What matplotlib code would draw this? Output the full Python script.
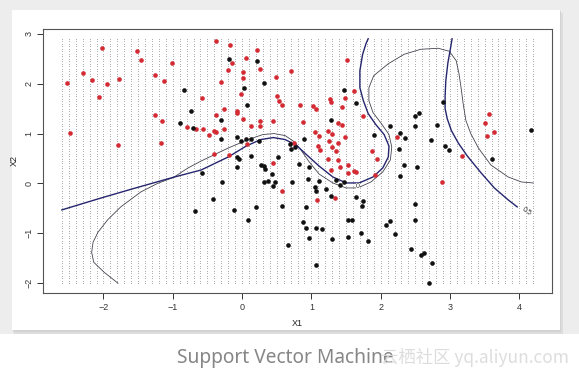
import numpy as np
import matplotlib
matplotlib.use("Agg")
import matplotlib.pyplot as plt
from matplotlib.patches import Rectangle

W, H = 579, 376

# prediction grid (drawn as tiny dots)
GRID_X_MIN, GRID_X_MAX, GRID_X_STEP = -2.6, 4.2, 0.1
GRID_Y_MIN, GRID_Y_MAX, GRID_Y_STEP = -2.0, 2.9, 0.05

# class 1 (red) training points
red_x = [-2.52, -2.48, -2.30, -2.16, -2.02, -1.95, -2.07, -1.79, -1.77, -1.52,
         -1.46, -1.26, -1.13, -1.01, -1.26, -1.16, -1.17, -0.80, -0.66, -0.58,
         -0.37, -0.17, 0.21, -0.15, 0.06, -0.20, 0.01, 0.26, 0.01, 0.70,
         0.49, -0.31, -0.01, 0.51, 0.53, 0.57, -0.26, -0.08, -0.07, -0.37,
         0.01, 0.26, 0.26, 0.44, 0.13, 0.84, 0.88, 1.03, 1.07, 1.27,
         1.28, 1.49, 1.51, 1.61, 1.44, 1.75, 1.39, 1.44, -0.57, -0.48,
         -0.41, -0.37, -0.26, 0.07, -0.40, -0.19, 0.75, 1.05, 1.11, 1.24,
         1.25, 1.30, 1.39, 1.30, 1.36, 1.09, 1.13, 1.49, 1.24, 1.88,
         1.95, 2.23, 3.17, 3.56, 3.50, 3.64, 3.53, 0.45, 0.58, 1.34,
         1.08, 1.38, 1.42, 1.53, 1.53, 1.28, 1.61, 1.92, 2.89, 1.64]
red_y = [2.01, 1.02, 2.21, 2.07, 2.71, 2.00, 1.73, 0.77, 2.10, 2.66,
         2.47, 2.18, 2.05, 2.42, 1.38, 1.26, 0.82, 1.14, 1.10, 1.71,
         2.85, 2.77, 2.68, 2.42, 2.51, 2.28, 2.24, 2.29, 2.12, 2.26,
         2.14, 2.04, 1.80, 1.76, 1.65, 1.58, 1.50, 1.46, 1.42, 1.38,
         1.29, 1.25, 1.16, 1.26, 1.16, 1.57, 1.24, 1.55, 1.50, 1.70,
         1.63, 1.71, 2.48, 1.86, 1.54, 1.36, 1.21, 1.18, 1.10, 0.98,
         1.06, 1.04, 1.09, 0.80, 0.59, 0.57, 0.81, 1.04, 0.96, 1.06,
         0.86, 1.00, 0.82, 0.73, 0.65, 0.75, 0.67, 0.93, 0.50, 0.66,
         0.50, 0.93, 0.56, 1.40, 1.22, 1.04, 0.96, 0.41, -0.16, -0.29,
         -0.33, 0.48, 0.32, 0.37, 0.20, 0.27, 0.24, 0.17, 0.02, 0.23]

# class 0 (black) training points
black_x = [-0.84, -0.73, -0.90, -0.71, -0.19, 0.21, 0.32, 0.03, 0.07, -0.31,
           1.47, 1.64, 1.29, -0.30, -0.07, -0.01, 0.06, 0.13, 0.25, 0.52,
           0.13, -0.08, -0.05, 0.69, 0.70, 0.76, 0.89, 2.13, 1.90, 2.28,
           2.27, -0.58, -0.08, -0.29, -0.42, -0.11, 0.09, 0.20, 0.27, 0.32,
           0.33, 0.43, 0.32, 0.37, 0.48, 0.44, 0.58, 0.72, 0.82, 0.95,
           1.05, 1.07, 1.11, 1.21, 1.28, 0.92, 1.35, 1.42, 1.64, 1.75,
           1.73, 1.53, 1.59, 0.88, 0.92, 1.06, 1.15, 0.96, 1.30, 1.53,
           1.72, 1.82, 0.66, 1.07, 2.08, 2.13, 2.20, 2.28, 2.90, 2.49,
           2.55, 2.49, 2.81, 2.35, 2.72, 2.93, 2.99, 3.61, 4.17, 2.34,
           2.53, 2.50, 2.49, 2.44, 2.58, 2.63, 2.74, 2.70, -0.68, 0.96, 1.47]
black_y = [1.88, 1.46, 1.22, 1.12, 2.49, 2.45, 2.01, 1.92, 1.58, 1.28,
           1.87, 1.61, 1.28, 0.89, 0.93, 0.86, 0.89, 0.90, 0.86, 0.53,
           0.56, 0.53, 0.49, 0.79, 0.70, 0.73, 0.89, 1.15, 0.97, 1.01,
           0.69, 0.20, 0.33, 0.02, -0.31, -0.53, -0.73, -0.47, 0.37, 0.35,
           0.29, 0.19, 0.02, 0.04, 0.02, -0.05, -0.45, 0.02, 0.38, 0.08,
           -0.08, -0.16, 0.04, -0.11, -0.26, -0.47, 0.07, -0.03, -0.28, -0.36,
           -0.45, -0.74, -0.74, -0.78, -0.90, -0.90, -0.91, -1.09, -1.11, -1.07,
           -1.00, -1.15, -1.24, -1.63, -0.83, -0.76, -1.01, 0.15, 1.63, 1.36,
           1.42, 1.16, 1.17, 0.91, 0.88, 0.75, 0.68, 0.49, 1.08, 0.36,
           0.33, -0.41, -0.73, -1.31, -1.43, -1.40, -1.59, -1.99, -0.55, 0.33, 0.02]

# SVM decision boundary (level 0)
svm_x = [-1.79, -1.99, -2.14, -2.17, -2.15, -2.08, -1.94, -1.75, -1.46, -1.22,
         -0.99, -0.78, -0.59, -0.20, 0.09, 0.30, 0.46, 0.62, 0.75, 0.85,
         0.97, 1.11, 1.31, 1.50, 1.67, 1.86, 2.03, 2.14, 2.16, 2.12,
         2.01, 1.89, 1.83, 1.83, 1.90, 2.11, 2.34, 2.58, 2.83, 2.99,
         3.09, 3.13, 3.16, 3.19, 3.23, 3.30, 3.41, 3.59, 3.84, 4.03, 4.20]
svm_y = [-2.00, -1.78, -1.58, -1.38, -1.18, -0.98, -0.73, -0.47, -0.17, 0.00,
         0.12, 0.31, 0.45, 0.71, 0.88, 0.98, 1.00, 0.96, 0.84, 0.67,
         0.43, 0.19, 0.01, -0.09, -0.09, 0.03, 0.23, 0.47, 0.73, 0.98,
         1.20, 1.42, 1.66, 1.92, 2.16, 2.40, 2.59, 2.69, 2.71, 2.65,
         2.46, 2.20, 1.92, 1.60, 1.26, 1.00, 0.71, 0.37, 0.13, 0.03, 0.01]
SVM_LABEL_IDX = 24

# Bayes boundary (probability 0.5), two pieces
bayes1_x = [-2.60, -2.03, -1.56, -1.00, -0.59, -0.20, 0.06, 0.27, 0.45, 0.62,
            0.78, 0.92, 1.11, 1.31, 1.50, 1.69, 1.89, 2.03, 2.11, 2.12,
            2.05, 1.93, 1.82, 1.75, 1.70, 1.70, 1.74, 1.79, 1.82]
bayes1_y = [-0.53, -0.29, -0.10, 0.12, 0.27, 0.53, 0.75, 0.88, 0.92, 0.88,
            0.77, 0.59, 0.35, 0.13, 0.01, 0.01, 0.13, 0.31, 0.53, 0.75,
            0.98, 1.18, 1.40, 1.66, 1.92, 2.26, 2.59, 2.81, 2.90]
bayes2_x = [3.03, 3.00, 2.97, 2.94, 2.93, 2.93, 2.96, 3.02, 3.12, 3.25,
            3.45, 3.64, 3.84, 3.97]
bayes2_y = [2.90, 2.65, 2.42, 2.06, 1.76, 1.50, 1.30, 1.06, 0.81, 0.55,
            0.21, -0.09, -0.33, -0.47]

x_ticks = [-2, -1, 0, 1, 2, 3, 4]
y_ticks = [-2, -1, 0, 1, 2, 3]


def fig_rect(fig, x0, y0, x1, y1, color, z):
    # pixel box (top-left origin) -> figure fraction
    r = Rectangle((x0 / W, 1 - y1 / H), (x1 - x0) / W, (y1 - y0) / H,
                  transform=fig.transFigure, facecolor=color, edgecolor="none", zorder=z)
    fig.add_artist(r)


def main():
    plt.rcParams["font.family"] = ["Liberation Sans", "DejaVu Sans"]
    fig = plt.figure(figsize=(W / 100, H / 100), dpi=100)
    fig.patch.set_facecolor("white")

    # page background + white card with a soft shadow
    fig_rect(fig, 0, 0, W, 334, "#ededed", -10)
    fig_rect(fig, 14, 13, 563, 334, "#dddddd", -9)
    fig_rect(fig, 13, 11, 561, 332, "#d2d2d2", -8)
    fig_rect(fig, 12, 10, 560, 330, "white", -7)

    ax = fig.add_axes([43 / W, 1 - 293 / H, (552 - 43) / W, (293 - 29) / H])
    ax.set_facecolor("white")

    gx = np.arange(GRID_X_MIN, GRID_X_MAX + GRID_X_STEP / 2, GRID_X_STEP)
    gy = np.arange(GRID_Y_MIN, GRID_Y_MAX + GRID_Y_STEP / 2, GRID_Y_STEP)
    mx, my = np.meshgrid(gx, gy)
    ax.scatter(mx.ravel(), my.ravel(), s=0.45, c="#a6a6a6", marker="o", linewidths=0, zorder=1)

    ax.plot(svm_x, svm_y, color="#44444f", lw=0.6, zorder=2)
    ax.plot(bayes1_x, bayes1_y, color="#26266e", lw=1.0, zorder=2)
    ax.plot(bayes2_x, bayes2_y, color="#26266e", lw=1.0, zorder=2)

    ax.scatter(red_x, red_y, s=11, c="#d42a33", linewidths=0, zorder=3)
    ax.scatter(black_x, black_y, s=11, c="#111111", linewidths=0, zorder=3)

    # contour labels
    ax.text(svm_x[SVM_LABEL_IDX], svm_y[SVM_LABEL_IDX] + 0.02, "0", fontsize=5, color="#333333",
            ha="center", va="center", zorder=4,
            bbox=dict(facecolor="white", edgecolor="none", pad=0.2))
    ax.text(bayes2_x[-1] + 0.13, bayes2_y[-1] - 0.1, "0.5", fontsize=5, color="#333333",
            ha="center", va="center", rotation=-35, zorder=4)

    ax.set_xlim(-2.872, 4.472)
    ax.set_ylim(-2.196, 3.096)
    ax.set_xticks(x_ticks)
    ax.set_yticks(y_ticks)
    ax.set_yticklabels([str(t).replace("-", "\u2212") for t in y_ticks], rotation=90, va="center")
    ax.tick_params(direction="out", length=4, width=0.7, colors="#333333", labelsize=6.5, pad=3)
    for sp in ax.spines.values():
        sp.set_color("#555555")
        sp.set_linewidth(0.8)
    ax.set_xlabel("X1", fontsize=6.5, color="#222222", labelpad=5)
    ax.set_ylabel("X2", fontsize=6.5, color="#222222", labelpad=4)

    fig.text(177 / W, 1 - 363 / H, "Support Vector Machine", fontsize=13.8, color="#868686",
             family=["Noto Sans", "DejaVu Sans"], ha="left", va="baseline")
    fig.text(381 / W, 1 - 363 / H, "云栖社区 yq.aliyun.com", fontsize=12.5, color="#dadada",
             family=["Noto Sans CJK SC", "DejaVu Sans"], ha="left", va="baseline", alpha=0.9)

    fig.savefig("out.png", dpi=100)


if __name__ == "__main__":
    main()
